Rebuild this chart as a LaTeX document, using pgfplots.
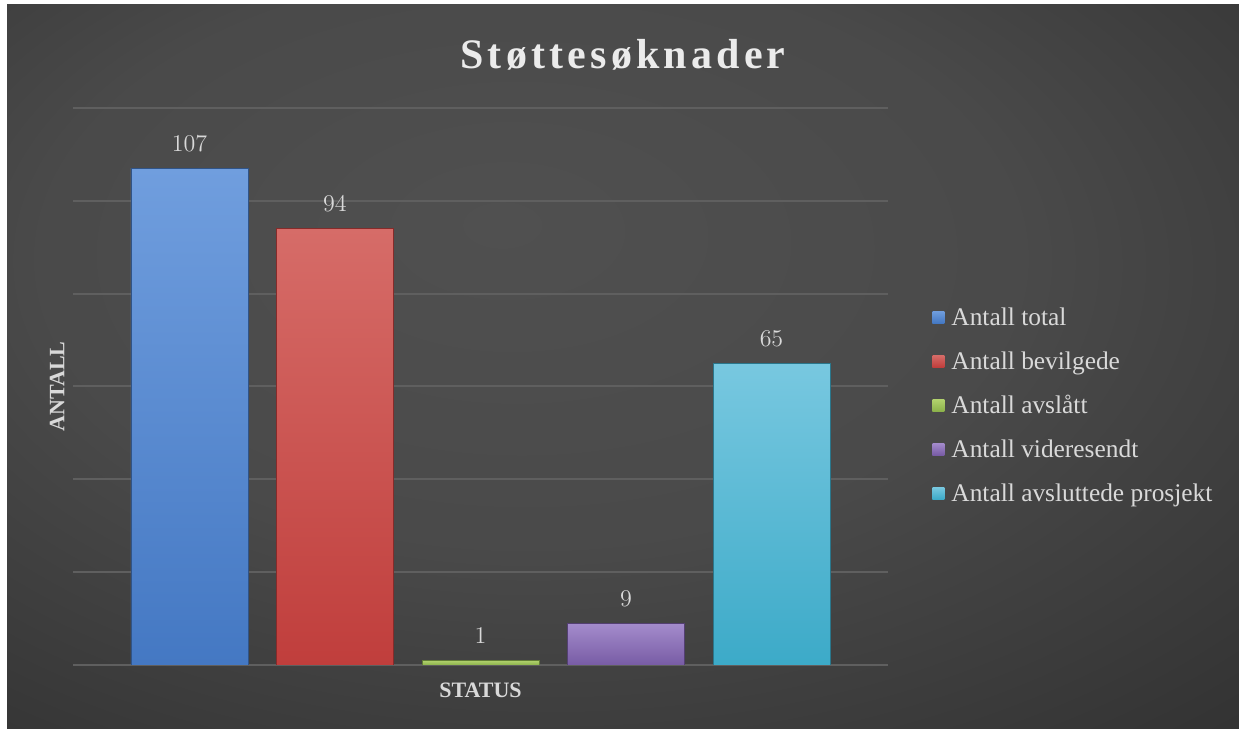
\documentclass[border=0pt]{standalone}
\usepackage{pgfplots}
\pgfplotsset{compat=1.18}
\usepackage{fontspec}
\setmainfont{Liberation Serif}
\newfontfamily\titlefont[LetterSpace=10]{Liberation Serif}
\definecolor{bgin}{RGB}{80,80,80}
\definecolor{bgout}{RGB}{38,38,38}
\definecolor{gridc}{RGB}{95,95,95}
\definecolor{txt}{RGB}{217,217,217}
\definecolor{bluet}{RGB}{112,158,222}
\definecolor{blueb}{RGB}{68,120,195}
\definecolor{redt}{RGB}{214,108,104}
\definecolor{redb}{RGB}{192,62,60}
\definecolor{greent}{RGB}{178,210,110}
\definecolor{greenb}{RGB}{140,178,75}
\definecolor{purpt}{RGB}{164,140,204}
\definecolor{purpb}{RGB}{120,92,165}
\definecolor{cyant}{RGB}{120,200,224}
\definecolor{cyanb}{RGB}{60,170,200}
\pgfdeclareradialshading{bgshade}{\pgfpoint{-5bp}{10bp}}{color(0bp)=(bgin); color(20bp)=(bgin!85!bgout); color(52bp)=(bgout); color(80bp)=(bgout)}
\begin{document}
\begin{tikzpicture}
\fill[white] (0,0) rectangle (619.5pt,364.5pt);
\shade[shading=bgshade] (3.5pt,0) rectangle (619.5pt,362pt);
\node[font=\titlefont\bfseries\fontsize{21}{24}\selectfont, text=white!92!black] at (311.5pt,337pt) {Støttesøknader};
\begin{axis}[
  scale only axis,
  width=407.5pt, height=278.5pt,
  at={(36.5pt,32pt)}, anchor=south west,
  ybar=14.25pt, bar width=58.5pt,
  xmin=-1, xmax=1,
  ymin=0, ymax=120,
  ytick={0,20,...,120}, yticklabels={},
  xtick={0}, xticklabels={\textbf{STATUS}},
  xticklabel style={anchor=center, yshift=-12.5pt, font=\fontsize{11}{13}\selectfont, text=txt},
  major tick length=0pt,
  axis line style={draw=none},
  ymajorgrids,
  grid style={gridc, line width=1pt},
  ylabel={\textbf{ANTALL}},
  ylabel style={at={(axis description cs:-0.0196,0.5)}, anchor=center, font=\fontsize{11}{13}\selectfont, text=txt},
  nodes near coords,
  every node near coord/.append style={yshift=5pt, font=\fontsize{13}{15}\selectfont, text=txt},
  legend style={at={(axis description cs:1.054,0.463)}, anchor=west, draw=none, fill=none, inner sep=0pt,
    font=\fontsize{12.7}{15}\selectfont, text=txt,
    nodes={inner sep=0pt, text height=8.8pt, text depth=2.6pt},
    row sep=10.6pt,
    /tikz/every odd column/.append style={column sep=3.5pt}},
  legend cell align=left,
  legend image code/.code={\fill[#1, draw=none] (0pt,-2pt) rectangle (6pt,4pt);},
]
\addplot[draw=blueb!70!black, top color=bluet, bottom color=blueb] coordinates {(0,107)};
\addplot[draw=redb!70!black, top color=redt, bottom color=redb] coordinates {(0,94)};
\addplot[draw=greenb!70!black, top color=greent, bottom color=greenb] coordinates {(0,1)};
\addplot[draw=purpb!70!black, top color=purpt, bottom color=purpb] coordinates {(0,9)};
\addplot[draw=cyanb!70!black, top color=cyant, bottom color=cyanb] coordinates {(0,65)};
\legend{Antall total, Antall bevilgede, Antall avslått, Antall videresendt, Antall avsluttede prosjekt}
\end{axis}
\pgfresetboundingbox
\useasboundingbox (0,0) rectangle (619.5pt,364.5pt);
\end{tikzpicture}
\end{document}
